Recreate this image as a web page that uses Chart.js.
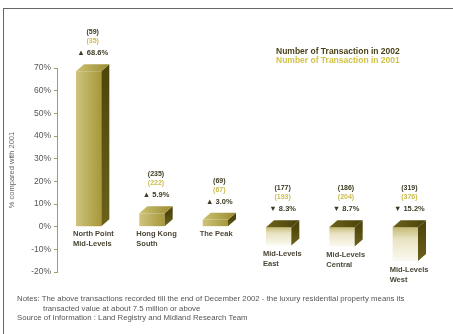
<!DOCTYPE html>
<html>
<head>
<meta charset="utf-8">
<script src="https://cdn.jsdelivr.net/npm/chart.js@4"></script>
<style>
  body { margin: 0; background: #fff; }
  #wrap { position: relative; width: 453px; height: 334px; overflow: hidden; }
  #frame { position: absolute; left: 3px; top: 8px; width: 470px; height: 340px;
           border-top: 1px solid #666; border-left: 1px solid #666; }
  canvas { position: absolute; left: 0; top: 0; }
</style>
</head>
<body>
<div id="wrap">
  <div id="frame"></div>
  <canvas id="barChart" width="453" height="334"></canvas>
</div>
<script>
  const categories = [['North Point', 'Mid-Levels'], ['Hong Kong', 'South'], ['The Peak'],
                      ['Mid-Levels', 'East'], ['Mid-Levels', 'Central'], ['Mid-Levels', 'West']];
  const changeVs2001 = [68.6, 5.9, 3.0, -8.3, -8.7, -15.2];
  const count2002 = [59, 235, 69, 177, 186, 319];
  const count2001 = [35, 222, 67, 193, 204, 376];
  const legendLabels = ['Number of Transaction in 2002', 'Number of Transaction in 2001'];
  const yAxisTitle = '% compared with 2001';
  const notes = [
    'Notes: The above transactions recorded till the end of December 2002 - the luxury residential property means its',
    '            transacted value at about 7.5 million or above',
    'Source of Information : Land Registry and Midland Research Team'
  ];

  const FONT = 'Arial, "Liberation Sans", sans-serif';
  const DX = 8, DY = -7;

  // front face: golden for gains, pale cream for losses
  function frontFill(context) {
    const chart = context.chart;
    const v = context.raw;
    const xs = chart.scales.x, ys = chart.scales.y;
    if (!chart.chartArea || !xs || !ys) return v >= 0 ? '#b3a349' : '#ece7c8';
    const c = chart.ctx;
    if (v >= 0) {
      const cx = xs.getPixelForValue(context.dataIndex);
      const g = c.createLinearGradient(cx - 13, 0, cx + 13, 0);
      g.addColorStop(0, '#cfc47e');
      g.addColorStop(1, '#a69739');
      return g;
    }
    const g = c.createLinearGradient(0, ys.getPixelForValue(0), 0, ys.getPixelForValue(v));
    g.addColorStop(0, '#c4b870');
    g.addColorStop(0.35, '#e8e2c2');
    g.addColorStop(1, '#fbfaf1');
    return g;
  }

  // adds the top and side faces and text labels around each bar
  const bar3d = {
    id: 'bar3d',
    afterDatasetsDraw(chart) {
      const ctx = chart.ctx;
      const meta = chart.getDatasetMeta(0);
      meta.data.forEach((bar, i) => {
        const w = bar.width;
        const l = bar.x - w / 2, r = bar.x + w / 2;
        const top = Math.min(bar.y, bar.base), bot = Math.max(bar.y, bar.base);
        const neg = changeVs2001[i] < 0;
        ctx.save();
        const sg = ctx.createLinearGradient(0, top, 0, bot);
        sg.addColorStop(0, '#4f460c');
        sg.addColorStop(1, '#6b611c');
        ctx.fillStyle = sg;
        ctx.beginPath();
        ctx.moveTo(r, top); ctx.lineTo(r + DX, top + DY);
        ctx.lineTo(r + DX, bot + DY); ctx.lineTo(r, bot);
        ctx.closePath(); ctx.fill();
        const tg = ctx.createLinearGradient(l, 0, r + DX, 0);
        tg.addColorStop(0, neg ? '#6e631a' : '#cdc172');
        tg.addColorStop(1, neg ? '#48400a' : '#9a8b30');
        ctx.fillStyle = tg;
        ctx.beginPath();
        ctx.moveTo(l, top); ctx.lineTo(l + DX, top + DY);
        ctx.lineTo(r + DX, top + DY); ctx.lineTo(r, top);
        ctx.closePath(); ctx.fill();

        // labels above
        const anchor = top + DY;
        const cx = bar.x + DX / 2;
        ctx.textAlign = 'center';
        ctx.textBaseline = 'middle';
        ctx.font = 'bold 7px ' + FONT;
        ctx.fillStyle = '#3e3a22';
        ctx.fillText('(' + count2002[i] + ')', cx, anchor - 32);
        ctx.fillStyle = '#cbbd4e';
        ctx.fillText('(' + count2001[i] + ')', cx, anchor - 23);
        ctx.fillStyle = '#3e3a22';
        ctx.font = 'bold 7.5px ' + FONT;
        const arrow = neg ? '\u25BC' : '\u25B2';
        ctx.fillText(arrow + ' ' + Math.abs(changeVs2001[i]).toFixed(1) + '%', cx, anchor - 11);

        // category label below
        ctx.textAlign = 'left';
        ctx.textBaseline = 'top';
        ctx.font = 'bold 7.5px ' + FONT;
        ctx.fillStyle = '#4a4636';
        const y0 = bot + (neg ? 5 : 4);
        categories[i].forEach((line, k) => ctx.fillText(line, l - 3, y0 + k * 10));
        ctx.restore();
      });

      // legend
      ctx.save();
      ctx.font = 'bold 8.5px ' + FONT;
      ctx.textAlign = 'left';
      ctx.textBaseline = 'middle';
      ctx.fillStyle = '#4a4218';
      ctx.fillText(legendLabels[0], 276, 52);
      ctx.fillStyle = '#d2c24a';
      ctx.fillText(legendLabels[1], 276, 61);

      // notes
      ctx.font = '7.8px ' + FONT;
      ctx.fillStyle = '#555';
      notes.forEach((t, k) => ctx.fillText(t, 17, 299 + k * 9.5));
      ctx.restore();
    }
  };

  const ctx = document.getElementById('barChart').getContext('2d');
  new Chart(ctx, {
    type: 'bar',
    data: {
      labels: categories,
      datasets: [{
        data: changeVs2001,
        backgroundColor: frontFill,
        borderWidth: 0,
        categoryPercentage: 1,
        barPercentage: 0.4
      }]
    },
    options: {
      responsive: false,
      animation: false,
      layout: { padding: { left: 0, right: 16, top: 68, bottom: 62 } },
      scales: {
        x: { display: false },
        y: {
          min: -20,
          max: 70,
          afterFit(scale) { scale.width = 57; },
          ticks: {
            stepSize: 10,
            color: '#555',
            padding: 3,
            font: { family: FONT, size: 8.5 },
            callback: v => v + '%'
          },
          grid: { drawOnChartArea: false, drawTicks: true, tickLength: 3, color: '#a29b6c' },
          border: { display: true, color: '#a29b6c', width: 1 },
          title: {
            display: true,
            text: yAxisTitle,
            color: '#666',
            padding: { top: 7, bottom: 0 },
            font: { family: FONT, size: 7.5 }
          }
        }
      },
      plugins: {
        legend: { display: false },
        tooltip: { enabled: false }
      }
    },
    plugins: [bar3d]
  });
</script>
</body>
</html>
